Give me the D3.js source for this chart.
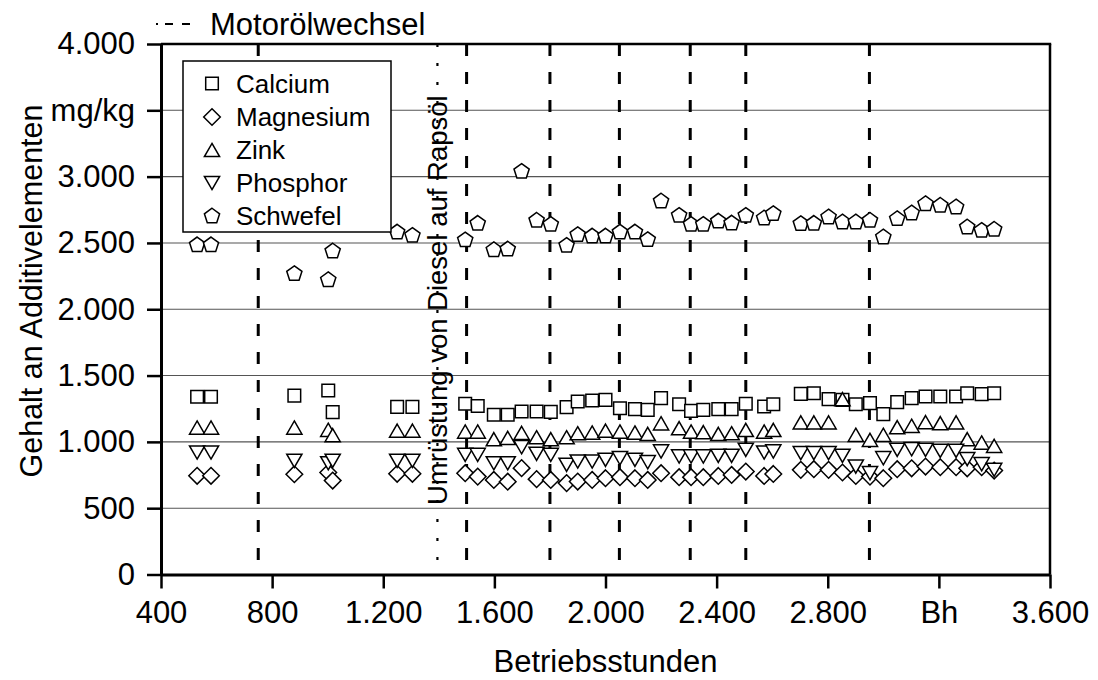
<!DOCTYPE html>
<html>
<head>
<meta charset="utf-8">
<script src="https://cdn.jsdelivr.net/npm/d3@7"></script>
<style>
  html, body { margin: 0; padding: 0; background: #fff; }
  svg { display: block; font-family: "Liberation Sans", Arial, sans-serif; }
</style>
</head>
<body>
<svg id="chart" width="1098" height="680"></svg>
<script>
// ---------------- data ----------------
const hours = [530, 580, 880, 1002, 1018, 1250, 1305, 1495, 1540, 1598, 1648, 1698, 1752, 1803, 1860, 1900, 1952, 2000, 2052, 2106, 2152, 2200, 2265, 2308, 2352, 2406, 2454, 2505, 2571, 2604, 2703, 2750, 2803, 2853, 2901, 2952, 3000, 3050, 3102, 3152, 3205, 3262, 3302, 3354, 3399];
const calcium = [1340, 1340, 1349, 1387, 1224, 1264, 1264, 1287, 1270, 1204, 1204, 1229, 1229, 1226, 1262, 1304, 1312, 1317, 1254, 1247, 1241, 1330, 1284, 1234, 1241, 1247, 1247, 1287, 1267, 1284, 1362, 1367, 1322, 1317, 1284, 1292, 1209, 1300, 1330, 1342, 1342, 1342, 1367, 1360, 1367];
const magnesium = [744, 744, 756, 769, 708, 759, 759, 764, 738, 713, 700, 802, 719, 713, 689, 701, 713, 726, 734, 726, 713, 764, 734, 734, 734, 743, 751, 776, 743, 758, 789, 794, 789, 769, 743, 738, 726, 794, 801, 814, 809, 809, 801, 809, 784];
const zink = [1108, 1108, 1108, 1091, 1051, 1085, 1085, 1078, 1078, 1020, 1030, 1068, 1035, 1020, 1035, 1065, 1070, 1085, 1078, 1070, 1060, 1140, 1103, 1078, 1073, 1060, 1065, 1090, 1078, 1090, 1147, 1147, 1147, 1322, 1053, 1015, 1053, 1111, 1121, 1149, 1141, 1147, 1020, 995, 970];
const phosphor = [920, 920, 857, 839, 857, 857, 857, 902, 902, 839, 839, 960, 910, 902, 827, 852, 852, 865, 877, 865, 847, 928, 890, 890, 890, 895, 895, 940, 920, 928, 915, 915, 915, 895, 814, 764, 877, 940, 945, 940, 932, 932, 870, 832, 789];
const schwefel = [2490, 2490, 2273, 2227, 2443, 2586, 2561, 2527, 2652, 2453, 2458, 3044, 2675, 2644, 2486, 2567, 2556, 2556, 2586, 2586, 2529, 2820, 2712, 2644, 2644, 2669, 2654, 2712, 2692, 2725, 2650, 2652, 2700, 2662, 2662, 2675, 2549, 2687, 2730, 2800, 2788, 2775, 2624, 2599, 2607];

const seriesNames = ["Calcium", "Magnesium", "Zink", "Phosphor", "Schwefel"];
const oilChanges = [750, 1500, 1800, 2050, 2305, 2505, 2950];
const conversionHour = 1395;

const xTickValues = [400, 800, 1200, 1600, 2000, 2400, 2800, 3200, 3600];
const xTickLabels = ["400", "800", "1.200", "1.600", "2.000", "2.400", "2.800", "Bh", "3.600"];
const yTickValues = [0, 500, 1000, 1500, 2000, 2500, 3000, 3500, 4000];
const yTickLabels = ["0", "500", "1.000", "1.500", "2.000", "2.500", "3.000", "mg/kg", "4.000"];

// ---------------- symbols ----------------
const symSquare = { draw(c) { const h = 6.3; c.moveTo(-h, -h); c.lineTo(h, -h); c.lineTo(h, h); c.lineTo(-h, h); c.closePath(); } };
const symDiamond = { draw(c) { const h = 8.3; c.moveTo(0, -h); c.lineTo(h, 0); c.lineTo(0, h); c.lineTo(-h, 0); c.closePath(); } };
const symTriUp = { draw(c) { c.moveTo(0, -6.6); c.lineTo(7.6, 6.6); c.lineTo(-7.6, 6.6); c.closePath(); } };
const symTriDown = { draw(c) { c.moveTo(0, 6.6); c.lineTo(7.6, -6.6); c.lineTo(-7.6, -6.6); c.closePath(); } };
const symPentagon = { draw(c) {
  const r = 8.0, dy = 0.0955 * r;
  for (let i = 0; i < 5; i++) {
    const a = -Math.PI / 2 + i * 2 * Math.PI / 5;
    const px = r * Math.cos(a), py = r * Math.sin(a) + dy;
    if (i === 0) c.moveTo(px, py); else c.lineTo(px, py);
  }
  c.closePath();
} };

const series = [
  { name: seriesNames[0], values: calcium, sym: symSquare },
  { name: seriesNames[1], values: magnesium, sym: symDiamond },
  { name: seriesNames[2], values: zink, sym: symTriUp },
  { name: seriesNames[3], values: phosphor, sym: symTriDown },
  { name: seriesNames[4], values: schwefel, sym: symPentagon }
];

// ---------------- layout ----------------
const svg = d3.select("#chart");
const L = 161, R = 1050, T = 44, B = 574.5;
const x = d3.scaleLinear().domain([400, 3600]).range([L, R]);
const y = d3.scaleLinear().domain([0, 4000]).range([B, T]);

// grid lines
svg.append("g").selectAll("line")
  .data(yTickValues.filter(v => v > 0 && v < 4000))
  .join("line")
  .attr("x1", L).attr("x2", R)
  .attr("y1", d => y(d)).attr("y2", d => y(d))
  .attr("stroke", "#555").attr("stroke-width", 1.1);

// oil change dashed lines
svg.append("g").selectAll("line")
  .data(oilChanges)
  .join("line")
  .attr("x1", d => x(d)).attr("x2", d => x(d))
  .attr("y1", T).attr("y2", B)
  .attr("stroke", "#000").attr("stroke-width", 3)
  .attr("stroke-dasharray", "12,16");

// conversion dotted line
svg.append("line")
  .attr("x1", x(conversionHour)).attr("x2", x(conversionHour))
  .attr("y1", T).attr("y2", B)
  .attr("stroke", "#000").attr("stroke-width", 2.2)
  .attr("stroke-dasharray", "3,16");

// annotation
svg.append("text")
  .attr("transform", `translate(${x(conversionHour) + 10},505) rotate(-90)`)
  .attr("font-size", 27.5)
  .attr("fill", "#000")
  .text("Umrüstung von Diesel auf Rapsöl");

// points
const sym = d3.symbol();
series.forEach(s => {
  svg.append("g").selectAll("path")
    .data(hours.map((h, i) => [h, s.values[i]]))
    .join("path")
    .attr("transform", d => `translate(${x(d[0])},${y(d[1])})`)
    .attr("d", sym.type(s.sym)())
    .attr("fill", "#fff").attr("stroke", "#000").attr("stroke-width", 1.5);
});

// axes
const xAxis = d3.axisBottom(x).tickValues(xTickValues)
  .tickFormat((d, i) => xTickLabels[i]).tickSize(14).tickSizeOuter(0).tickPadding(12);
const gx = svg.append("g").attr("transform", `translate(0,${B})`).call(xAxis);
gx.select(".domain").attr("stroke-width", 3);
gx.selectAll(".tick line").attr("stroke-width", 2.5);
gx.selectAll(".tick text").attr("font-size", 31).attr("font-family", "Liberation Sans, Arial, sans-serif").attr("fill", "#000");

const yAxis = d3.axisLeft(y).tickValues(yTickValues)
  .tickFormat((d, i) => yTickLabels[i]).tickSize(14).tickSizeOuter(0).tickPadding(12);
const gy = svg.append("g").attr("transform", `translate(${L},0)`).call(yAxis);
gy.select(".domain").attr("stroke-width", 3);
gy.selectAll(".tick line").attr("stroke-width", 2.5);
gy.selectAll(".tick text").attr("font-size", 31).attr("font-family", "Liberation Sans, Arial, sans-serif").attr("fill", "#000");

// frame top & right
svg.append("line").attr("x1", L).attr("x2", R + 1.2).attr("y1", T).attr("y2", T).attr("stroke", "#000").attr("stroke-width", 2.5);
svg.append("line").attr("x1", R).attr("x2", R).attr("y1", T).attr("y2", B).attr("stroke", "#000").attr("stroke-width", 2.5);

// axis titles
svg.append("text")
  .attr("x", (L + R) / 2).attr("y", 672)
  .attr("text-anchor", "middle").attr("font-size", 31)
  .text("Betriebsstunden");
svg.append("text")
  .attr("transform", "translate(42,291) rotate(-90)")
  .attr("text-anchor", "middle").attr("font-size", 30.5)
  .text("Gehalt an Additivelementen");

// legend box
const lg = svg.append("g");
lg.append("rect").attr("x", 183).attr("y", 61).attr("width", 208).attr("height", 171)
  .attr("fill", "#fff").attr("stroke", "#000").attr("stroke-width", 1.5);
const legendY = [83.5, 117, 150, 183, 215.5];
series.forEach((s, i) => {
  lg.append("path").attr("transform", `translate(212,${legendY[i]})`)
    .attr("d", sym.type(s.sym)())
    .attr("fill", "#fff").attr("stroke", "#000").attr("stroke-width", 1.5);
  lg.append("text").attr("x", 236).attr("y", legendY[i]).attr("dy", "0.36em")
    .attr("font-size", 26).text(s.name);
});

// top legend for oil change
svg.append("line").attr("x1", 156).attr("x2", 190).attr("y1", 24).attr("y2", 24)
  .attr("stroke", "#000").attr("stroke-width", 2).attr("stroke-dasharray", "2,7,8,9,8");
svg.append("text").attr("x", 210).attr("y", 35).attr("font-size", 31).text("Motorölwechsel");
</script>
</body>
</html>
